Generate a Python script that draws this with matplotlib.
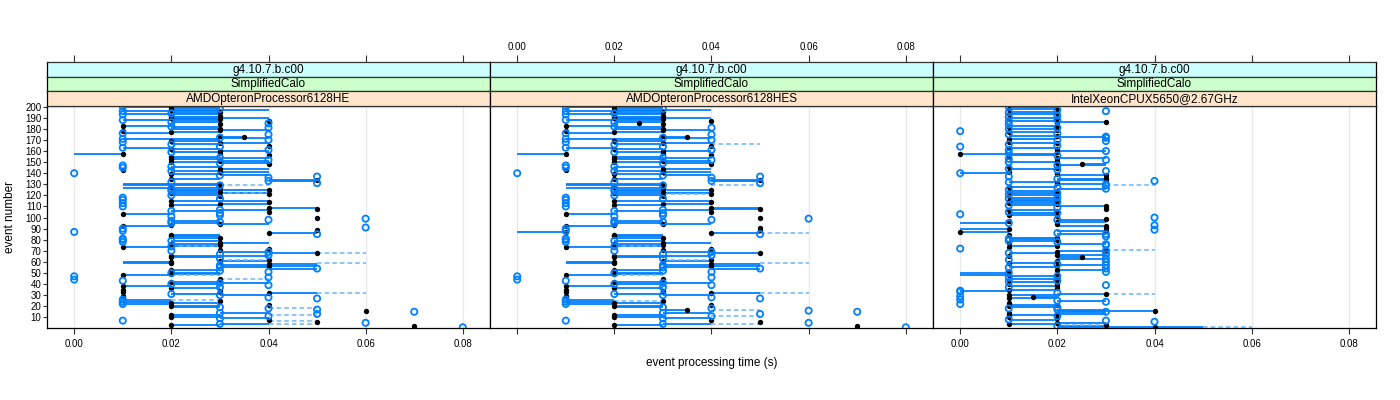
import matplotlib
matplotlib.use("Agg")
import matplotlib.pyplot as plt
import numpy as np

plt.rcParams['font.family'] = ['Liberation Sans', 'DejaVu Sans']

# ---------------- data ----------------
events = list(range(200, 0, -1))          # event numbers, top to bottom
version = "g4.10.7.b.c00"
application = "SimplifiedCalo"
cpus = ["AMDOpteronProcessor6128HE", "AMDOpteronProcessor6128HES", "IntelXeonCPUX5650@2.67GHz"]
x_ticks = [0.00, 0.02, 0.04, 0.06, 0.08]
y_ticks = list(range(10, 201, 10))

# panel 1 : time (ms) per event, marker kind (b = black dot, o = blue circle), line end (ms)
p1_time_ms = [
    10, 20, 30, 20, 10, 30, 20, 10, 30, 20,
    20, 30, 10, 40, 20, 40, 30, 10, 20, 40,
    30, 30, 10, 20, 10, 40, 30, 35, 30, 10,
    40, 20, 10, 30, 20, 40, 30, 10, 20, 40,
    30, 20, 30, 10, 40, 20, 30, 20, 40, 30,
    20, 30, 40, 10, 20, 10, 30, 10, 20, 30,
    0, 20, 30, 50, 40, 20, 50, 40, 20, 50,
    30, 30, 20, 30, 20, 40, 20, 30, 20, 40,
    20, 30, 10, 30, 10, 20, 40, 10, 30, 20,
    10, 40, 50, 30, 20, 40, 30, 10, 30, 20,
    50, 60, 40, 20, 30, 20, 30, 20, 10, 60,
    10, 50, 10, 0, 40, 50, 20, 20, 30, 10,
    10, 20, 10, 30, 20, 30, 20, 10, 40, 30,
    20, 40, 50, 30, 40, 20, 20, 30, 40, 30,
    20, 20, 40, 30, 40, 30, 50, 20, 30, 40,
    20, 20, 10, 0, 40, 30, 0, 10, 20, 30,
    20, 40, 10, 30, 20, 10, 30, 10, 40, 20,
    30, 10, 40, 50, 10, 30, 10, 20, 10, 40,
    20, 30, 40, 50, 60, 70, 30, 50, 20, 40,
    20, 30, 40, 10, 50, 60, 30, 20, 70, 80,
]
p1_kind = ("oboboboobb" "bboboobboo" "bbbboobboo" "oboboboobo" "bobbbbobob"
           "bobooobbob" "obooobbooo" "bobbobobbb" "obooobbobb" "obbooboboo"
           "booooobbbo" "oboobobbbo" "ooobbbobbb" "ooboobbobb" "bbbobooboo"
           "obbooboobo" "oobobbbbbo" "obooobobob" "booobooobo" "boboboobbo")
p1_end_ms = [
    30, 30, 30, 40, 30, 30, 30, 30, 30, 30,
    40, 20, 30, 40, 30, 40, 30, 20, 30, 40,
    20, 40, 10, 30, 20, 40, 30, 30, 40, 30,
    40, 30, 10, 40, 30, 40, 30, 20, 30, 40,
    40, 30, 30, 0, 40, 30, 40, 30, 40, 40,
    30, 40, 40, 10, 30, 10, 40, 10, 30, 40,
    0, 30, 40, 50, 40, 30, 40, 50, 20, 50,
    10, 10, 20, 10, 20, 20, 30, 30, 40, 40,
    30, 30, 10, 30, 10, 40, 40, 10, 40, 30,
    10, 50, 50, 40, 30, 40, 30, 20, 30, 20,
    50, 60, 40, 30, 30, 30, 40, 20, 20, 60,
    10, 50, 10, 0, 50, 50, 30, 30, 20, 10,
    10, 30, 10, 40, 30, 30, 30, 20, 40, 30,
    20, 30, 40, 30, 40, 40, 30, 30, 40, 40,
    10, 10, 50, 40, 50, 40, 40, 30, 30, 40,
    30, 30, 20, 0, 40, 30, 0, 10, 30, 40,
    30, 40, 20, 30, 30, 10, 30, 10, 50, 30,
    40, 10, 40, 50, 20, 30, 20, 30, 20, 40,
    30, 20, 40, 50, 60, 70, 40, 50, 30, 40,
    30, 40, 40, 10, 50, 60, 40, 30, 70, 80,
]
p1_dash_ev = [129, 122, 74, 68, 62, 59, 48, 45, 32, 26, 18, 12, 7, 4]
p1_dash_from = [30, 30, 20, 50, 30, 50, 20, 30, 50, 20, 40, 40, 40, 40]
p1_dash_to = [40, 40, 30, 60, 40, 60, 30, 40, 60, 30, 50, 50, 50, 50]

# panel 2
p2_time_ms = [
    10, 20, 30, 20, 10, 30, 20, 10, 30, 20,
    20, 30, 10, 40, 20, 25, 30, 10, 20, 40,
    30, 30, 10, 20, 10, 40, 30, 35, 30, 10,
    40, 20, 10, 30, 20, 40, 30, 10, 20, 40,
    30, 20, 30, 10, 40, 20, 30, 20, 40, 30,
    20, 30, 40, 10, 20, 10, 30, 10, 20, 30,
    0, 20, 30, 50, 40, 20, 50, 40, 20, 50,
    30, 30, 20, 30, 20, 40, 20, 30, 20, 40,
    20, 30, 10, 30, 10, 20, 40, 10, 30, 20,
    10, 40, 50, 30, 20, 40, 30, 10, 30, 20,
    50, 60, 40, 20, 30, 20, 30, 20, 10, 50,
    10, 50, 10, 10, 40, 50, 20, 20, 30, 10,
    10, 20, 10, 30, 20, 30, 20, 10, 40, 30,
    20, 40, 50, 30, 40, 20, 20, 30, 40, 30,
    20, 20, 40, 30, 40, 30, 50, 20, 30, 40,
    20, 20, 10, 0, 40, 30, 0, 10, 20, 30,
    20, 40, 10, 30, 20, 10, 30, 10, 40, 20,
    30, 10, 40, 50, 10, 30, 10, 20, 10, 40,
    20, 30, 40, 35, 60, 70, 30, 50, 20, 40,
    20, 30, 40, 10, 50, 60, 30, 20, 70, 80,
]
p2_kind = ("oboboboobb" "bbobobbboo" "bbbboobboo" "oboboboobo" "bobbbbobob"
           "bobooobbob" "obooobbooo" "bobbobobbb" "obooobbobb" "obbooboboo"
           "booooobbbb" "obobbobbbo" "ooobbbobbb" "ooboobbobb" "bbbobooboo"
           "obbooboobo" "oobobbbbbo" "obooobobob" "booboooobo" "boboboobbo")
p2_end_ms = [
    30, 30, 30, 40, 30, 30, 30, 30, 30, 30,
    40, 20, 30, 40, 30, 25, 30, 20, 30, 40,
    20, 40, 10, 30, 20, 40, 30, 30, 40, 30,
    40, 30, 10, 40, 30, 40, 30, 20, 30, 40,
    40, 30, 30, 0, 40, 30, 40, 30, 40, 40,
    30, 40, 40, 10, 30, 10, 40, 10, 30, 40,
    0, 30, 40, 50, 40, 30, 40, 50, 20, 50,
    10, 10, 20, 10, 20, 20, 30, 30, 40, 40,
    30, 30, 10, 30, 10, 40, 40, 10, 40, 30,
    10, 50, 40, 40, 30, 40, 30, 20, 30, 20,
    50, 60, 40, 30, 30, 30, 40, 20, 20, 50,
    10, 50, 10, 0, 50, 50, 30, 30, 20, 10,
    10, 30, 10, 40, 30, 30, 30, 20, 40, 30,
    20, 30, 40, 30, 40, 40, 30, 30, 40, 40,
    10, 10, 50, 40, 50, 40, 40, 30, 30, 40,
    30, 30, 20, 0, 40, 30, 0, 10, 30, 40,
    30, 40, 20, 30, 30, 10, 30, 10, 50, 30,
    40, 10, 40, 50, 20, 30, 20, 30, 20, 40,
    30, 20, 40, 30, 60, 70, 40, 50, 30, 40,
    30, 40, 40, 10, 50, 60, 40, 30, 70, 80,
]
p2_dash_ev = [166, 129, 121, 86, 74, 62, 59, 48, 32, 25, 17, 11, 4]
p2_dash_from = [40, 40, 30, 50, 20, 30, 50, 20, 50, 20, 40, 40, 40]
p2_dash_to = [50, 50, 40, 60, 30, 40, 60, 30, 60, 30, 50, 50, 50]

# panel 3
p3_time_ms = [
    10, 20, 10, 20, 30, 10, 20, 10, 20, 10,
    20, 10, 20, 10, 30, 20, 10, 20, 10, 20,
    10, 20, 0, 10, 20, 10, 20, 30, 30, 10,
    20, 30, 10, 20, 10, 20, 0, 10, 20, 10,
    30, 20, 10, 0, 20, 10, 20, 10, 30, 20,
    10, 20, 25, 20, 10, 20, 10, 20, 30, 10,
    0, 20, 30, 10, 30, 20, 30, 40, 10, 20,
    30, 30, 10, 20, 30, 10, 20, 10, 20, 10,
    20, 10, 20, 10, 20, 10, 20, 10, 20, 10,
    30, 20, 30, 10, 20, 10, 20, 0, 10, 20,
    40, 30, 20, 10, 20, 10, 20, 40, 30, 30,
    10, 40, 30, 0, 20, 30, 10, 30, 20, 10,
    20, 10, 20, 10, 30, 30, 20, 10, 0, 30,
    30, 20, 10, 30, 20, 10, 25, 30, 10, 20,
    30, 10, 20, 30, 20, 10, 30, 20, 10, 30,
    10, 20, 10, 20, 10, 20, 10, 20, 10, 20,
    10, 30, 20, 10, 20, 10, 0, 0, 20, 30,
    10, 0, 15, 10, 0, 20, 30, 10, 0, 20,
    10, 20, 10, 20, 40, 30, 10, 20, 10, 20,
    10, 20, 10, 30, 40, 20, 10, 30, 20, 40,
]
p3_kind = ("obbooobboo" "bboobbobbo" "obobooboob" "oobbooobbo" "obobobboob"
           "obbobbooob" "obboboboob" "oobooobboo" "bboobbobbo" "bobbbooobb"
           "obobbobobb" "bobboobobo" "booboobbob" "oboobbboob" "obooboobbo"
           "obboobboob" "bobobbooob" "bobbooobob" "booobobbbo" "bbooobbbob")
p3_end_ms = [
    20, 20, 20, 20, 30, 20, 20, 20, 20, 10,
    10, 10, 20, 20, 20, 20, 10, 10, 10, 20,
    20, 20, 0, 20, 20, 10, 10, 20, 30, 20,
    20, 30, 10, 10, 10, 20, 0, 20, 20, 10,
    20, 20, 10, 20, 10, 10, 30, 10, 30, 20,
    20, 20, 30, 30, 10, 20, 20, 20, 30, 10,
    10, 20, 20, 10, 30, 30, 20, 40, 20, 20,
    20, 30, 20, 20, 20, 10, 10, 10, 10, 10,
    10, 10, 10, 10, 10, 20, 20, 20, 20, 20,
    20, 20, 30, 20, 20, 10, 10, 0, 20, 20,
    40, 30, 30, 10, 30, 0, 20, 40, 20, 30,
    0, 40, 20, 10, 20, 20, 10, 30, 10, 20,
    20, 20, 20, 10, 20, 30, 10, 10, 0, 30,
    20, 20, 20, 30, 30, 10, 20, 20, 10, 20,
    30, 20, 20, 20, 20, 20, 30, 30, 10, 30,
    0, 20, 0, 10, 10, 10, 10, 20, 20, 20,
    10, 30, 10, 10, 20, 20, 10, 0, 20, 20,
    20, 0, 20, 20, 0, 30, 30, 10, 0, 10,
    10, 10, 10, 30, 20, 20, 10, 30, 20, 20,
    10, 20, 20, 30, 40, 30, 20, 30, 30, 20,
]
p3_dash_ev = [129, 71, 31, 1, 3]
p3_dash_from = [30, 30, 30, 50, 20]
p3_dash_to = [40, 40, 40, 60, 30]
p3_extra_ev = [1]
p3_extra_from = [40]
p3_extra_to = [50]

panels = [
    (p1_time_ms, p1_kind, p1_end_ms, p1_dash_ev, p1_dash_from, p1_dash_to, [], [], []),
    (p2_time_ms, p2_kind, p2_end_ms, p2_dash_ev, p2_dash_from, p2_dash_to, [], [], []),
    (p3_time_ms, p3_kind, p3_end_ms, p3_dash_ev, p3_dash_from, p3_dash_to,
     p3_extra_ev, p3_extra_from, p3_extra_to),
]

# ---------------- styling ----------------
W, H = 1400, 400
BLUE = '#0080ff'
DASH = '#6ab4ff'
STRIP_COLS = ['#ccffff', '#ccffcc', '#ffe5cc']
FRAME = '#333333'

fig = plt.figure(figsize=(W / 100, H / 100), dpi=100)


def rect(x0, y0, x1, y1):
    return [x0 / W, 1 - y1 / H, (x1 - x0) / W, (y1 - y0) / H]


left0, pw = 47, 443
ytop, ybot = 105.5, 328
strip_h = 14.5
xlim = (-0.0056, 0.0856)
ylim = (0.35, 201.1)

for i, (t_ms, kinds, end_ms, d_ev, d_from, d_to, e_ev, e_from, e_to) in enumerate(panels):
    x0 = left0 + i * pw
    ax = fig.add_axes(rect(x0, ytop, x0 + pw, ybot))
    ev = np.array(events)
    t = np.array(t_ms) / 1000.0
    u = np.array(end_ms) / 1000.0
    k = np.array(list(kinds))
    m = t != u
    for xv in x_ticks:
        ax.axvline(xv, color='#e8e8e8', lw=0.9, zorder=0)
    ax.hlines(ev[m], np.minimum(t[m], u[m]), np.maximum(t[m], u[m]),
              colors=BLUE, lw=1.3, zorder=2)
    if e_ev:
        ax.hlines(e_ev, np.array(e_from) / 1000, np.array(e_to) / 1000,
                  colors=BLUE, lw=1.3, zorder=2)
    ax.hlines(d_ev, np.array(d_from) / 1000, np.array(d_to) / 1000,
              colors=DASH, lw=1.1, linestyles=(0, (3, 2)), zorder=2)
    blk = k == 'b'
    ax.scatter(t[blk], ev[blk], s=15, c='black', linewidths=0, zorder=3)
    ax.scatter(t[~blk], ev[~blk], s=20, facecolors='none', edgecolors=BLUE,
               linewidths=1.3, zorder=4)
    ax.set_xlim(*xlim)
    ax.set_ylim(*ylim)
    ax.set_xticks(x_ticks)
    for sp in ax.spines.values():
        sp.set_color('black')
        sp.set_linewidth(0.9)
    ax.tick_params(axis='x', direction='out', length=4, width=0.8, color=FRAME,
                   labelsize=7, pad=4, labelbottom=(i != 1))
    ax.xaxis.set_major_formatter(matplotlib.ticker.FormatStrFormatter('%.2f'))
    if i == 0:
        ax.set_yticks(y_ticks)
        ax.tick_params(axis='y', direction='out', length=3, width=0.8, color=FRAME,
                       labelsize=7, pad=1)
    else:
        ax.set_yticks([])

    # strips
    labels = [version, application, cpus[i]]
    for j, (lab, col) in enumerate(zip(labels, STRIP_COLS)):
        sy0 = ytop - (3 - j) * strip_h
        sax = fig.add_axes(rect(x0, sy0, x0 + pw, sy0 + strip_h))
        sax.set_facecolor(col)
        sax.set_xlim(*xlim)
        sax.set_ylim(0, 1)
        sax.set_yticks([])
        for sp in sax.spines.values():
            sp.set_color(FRAME)
            sp.set_linewidth(0.9)
        sax.spines['left'].set_color('black')
        sax.spines['right'].set_color('black')
        sax.text(0.5, 0.45, lab, transform=sax.transAxes, ha='center', va='center',
                 fontsize=8.5)
        if j == 0:
            sax.set_xticks(x_ticks)
            sax.xaxis.set_ticks_position('top')
            sax.tick_params(axis='x', direction='out', length=5, width=0.8, color=FRAME,
                            labelsize=7, pad=2, labeltop=(i == 1), labelbottom=False)
            sax.xaxis.set_major_formatter(matplotlib.ticker.FormatStrFormatter('%.2f'))
        else:
            sax.set_xticks([])

fig.text((left0 + 1.5 * pw) / W, 1 - 363 / H, 'event processing time (s)',
         ha='center', va='center', fontsize=8.5)
fig.text(10 / W, 1 - (ytop + ybot) / 2 / H, 'event number', rotation=90,
         ha='center', va='center', fontsize=8.5)

fig.savefig('out.png', dpi=100)
